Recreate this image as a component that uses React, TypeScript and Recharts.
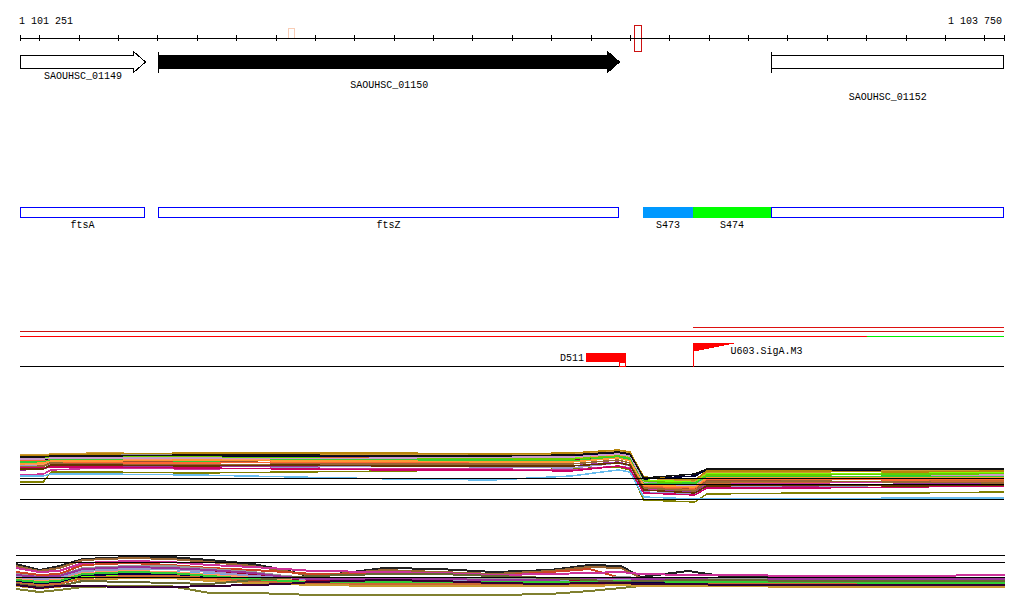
import React from 'react';
import { ComposedChart, XAxis, YAxis, ReferenceArea, ReferenceLine, Line } from 'recharts';

// ---------------- data ----------------
const VIEW_START = 1101251;
const VIEW_END = 1103750;
const RULER_TICKS = [1101251, 1101300, 1101400, 1101500, 1101600, 1101700, 1101800, 1101900, 1102000, 1102100, 1102200, 1102300, 1102400, 1102500, 1102600, 1102700, 1102800, 1102900, 1103000, 1103100, 1103200, 1103300, 1103400, 1103500, 1103600, 1103700, 1103750];
const RULER_LABELS = ['1 101 251', '1 103 750'];

const GENE_NAMES = ['SAOUHSC_01149', 'SAOUHSC_01150', 'SAOUHSC_01152'];
const GENE_STARTS = [1100158, 1101602, 1103159];
const GENE_ENDS = [1101571, 1102775, 1104500];

const FEATURE_NAMES = ['ftsA', 'ftsZ', 'S473', 'S474', ''];
const FEATURE_STARTS = [1100158, 1101602, 1102833, 1102960, 1103159];
const FEATURE_ENDS = [1101568, 1102772, 1102960, 1103159, 1104500];

const MARKER_STARTS = [1101932, 1102811];
const MARKER_ENDS = [1101950, 1102831];

const SIGNAL_STARTS = [1102960, 1101251, 1101251, 1103402];
const SIGNAL_ENDS = [1103750, 1103750, 1103402, 1103750];

const SITE_NAMES = ['D511', 'U603.SigA.M3'];
const SITE_STARTS = [1102689, 1102960];
const SITE_ENDS = [1102790, 1103062];
const D511_TAIL = [1102772, 1102790];

// expression profiles, panel 1
const B1_POS = [1101251, 1101310, 1101330, 1101450, 1101700, 1101950, 1102200, 1102450, 1102650, 1102770, 1102800, 1102835, 1102965, 1102995, 1103250, 1103500, 1103750];
const B1_01 = [6.6, 6.6, 8.6, 8.6, 8.4, 8.6, 8.8, 9, 9.2, 9.6, 9, 3, 2.6, 4.2, 4.4, 4.4, 4.6];
const B1_02 = [9.8, 10, 10.2, 10.6, 10.6, 10.4, 10.6, 10.4, 10.6, 11.4, 11, 6, 5.4, 7.4, 7.2, 7.4, 7.6];
const B1_03 = [11, 11.2, 11.8, 12, 11.8, 11.6, 11.6, 11.4, 11.4, 12, 11.6, 7, 6.6, 8.2, 8.2, 8.4, 8.4];
const B1_04 = [8, 8.2, 9, 9.4, 9.2, 9.4, 9.2, 9.2, 9, 9.8, 9.4, 5.2, 4.8, 6.2, 6.4, 6.6, 6.6];
const B1_05 = [7.8, 7.8, 8.2, 8.2, 8, 7.6, 7.2, 7, 7.8, 9, 8.6, 3.6, 3.2, 3.2, 3.2, 3.4, 3.4];
const B1_06 = [9.4, 9.6, 10.6, 10.8, 10.6, 11, 10.8, 11, 11, 11.8, 11.2, 5.8, 5.2, 7, 7, 7.2, 7];
const B1_07 = [10.2, 10.4, 11, 11.2, 11, 10.8, 11.2, 11.2, 11, 11.8, 11.4, 6.4, 5.8, 7.8, 7.6, 7.8, 7.8];
const B1_08 = [10.6, 10.8, 11.4, 11.6, 11.8, 11.8, 11.8, 11.6, 11.8, 12.4, 12, 7.2, 7.8, 9, 9, 9, 9];
const B1_09 = [10, 10.2, 10.8, 11, 11.2, 11.2, 11, 10.8, 11.2, 12, 11.4, 6.2, 5.6, 7.6, 7.4, 7.6, 7.8];
const B1_10 = [11.4, 11.4, 11.8, 12, 12.2, 12, 12, 11.8, 12, 12.6, 12.2, 6.6, 6, 7.8, 7.8, 7.6, 7.6];
const B1_11 = [9.8, 9.8, 10.2, 10, 9.8, 9.6, 9.8, 9.6, 9.4, 10.4, 9.8, 4.6, 4.2, 5.8, 5.6, 6, 6.4];
const B1_12 = [10.4, 10.6, 11.2, 11.4, 11.2, 11.4, 11.4, 11.4, 11.6, 12.2, 11.8, 5.6, 5, 6.4, 6.6, 6.8, 6.8];
const B1_13 = [11.6, 11.6, 11.6, 11.8, 11.6, 11.4, 11.2, 11.2, 11.2, 11.8, 11.4, 6.8, 6.2, 8, 8, 8.2, 8.2];
const B1_14 = [12, 12, 12.2, 12.4, 12.2, 12.2, 12.2, 12, 12.2, 12.8, 12.4, 7.4, 6.8, 8.6, 8.6, 8.8, 8.8];
const B1_15 = [9, 9.2, 9.8, 9.8, 9.6, 9.8, 10, 9.8, 9.8, 10.6, 10, 5, 4.6, 6, 5.8, 6.2, 6.2];
const B1_16 = [10.8, 11, 10.6, 10.4, 10.4, 10.6, 10.4, 10.6, 10.8, 11.6, 11, 5.8, 5.4, 7.2, 7.2, 7, 7.2];
const B1_17 = [9.6, 9.8, 10.4, 10.2, 10, 10.2, 10.2, 10.2, 10.2, 11, 10.4, 5.4, 4.8, 6.6, 6.8, 6.6, 6.4];
const B1_18 = [11.2, 11.2, 11.4, 11.4, 11.4, 11.2, 11.4, 11.6, 11.6, 12.2, 11.8, 6.4, 5.8, 7.4, 7.6, 7.8, 8];
const B1_19 = [10.6, 10.6, 11, 11, 10.8, 11, 11, 11, 10.8, 11.6, 11.2, 6.2, 6.4, 7.6, 7.6, 7.8, 7.6];
const B1_20 = [9.4, 9.4, 9.6, 9.6, 9.4, 9.2, 9, 9, 8.8, 9.8, 9.2, 4.4, 4, 5.4, 5.4, 5.6, 5.8];
const B1_21 = [11.8, 11.8, 12, 12.2, 12.4, 12.4, 12.4, 12.2, 12.4, 13, 12.6, 7.6, 7, 8.8, 8.8, 8.6, 8.8];
const B1_22 = [10.2, 10.4, 10.8, 10.8, 11, 10.8, 10.8, 10.6, 10.6, 11.4, 10.8, 6, 5.6, 7.4, 7.4, 7.4, 7.4];
const B1_23 = [9.2, 9.2, 10, 10, 9.8, 10, 9.8, 9.8, 9.8, 10.4, 10, 5, 4.4, 5.8, 6, 5.8, 6];
const B1_24 = [11.6, 11.6, 11.8, 11.8, 12, 12, 11.8, 11.8, 12, 12.6, 12.2, 7.4, 8.2, 9.2, 9.2, 9.2, 9.2];
const B1_THRESHOLDS = [7.4, 6.2, 3.2];

// expression profiles, panel 2
const B2_POS = [1101251, 1101310, 1101360, 1101420, 1101540, 1101640, 1101740, 1101850, 1101930, 1102000, 1102180, 1102320, 1102460, 1102600, 1102700, 1102780, 1102830, 1102950, 1103050, 1103250, 1103500, 1103750];
const B2_01 = [7.2, 6, 6.8, 8.2, 8.6, 8.6, 8, 7.2, 6, 4.6, 6.4, 6.2, 5.6, 6, 7, 6.8, 4.6, 5.8, 4.6, 4.6, 4.4, 4.4];
const B2_02 = [6.8, 5.8, 6.4, 8, 8.4, 8.2, 7.6, 6.8, 5.8, 4.8, 6, 5.6, 5.2, 5.8, 6.6, 6.4, 4.4, 4.4, 4.2, 4, 4, 4];
const B2_03 = [5.6, 5, 5.2, 7, 7.4, 7, 6.4, 6, 5.6, 5.2, 5.4, 5.2, 4.8, 5.6, 6.2, 4.4, 4.2, 4, 3.8, 4, 3.8, 3.8];
const B2_04 = [2.2, 1.6, 2, 2.6, 2.8, 2.8, 1.4, 1.4, 1.2, 1, 1, 1, 1, 1.2, 1.8, 2.4, 2.8, 3, 3, 3, 2.8, 2.8];
const B2_05 = [4.4, 4, 4.2, 5, 5.4, 5.6, 5.2, 4.8, 4.4, 4.2, 4.2, 4, 4.2, 4.2, 4.4, 4.4, 4.2, 4.2, 4.2, 4.2, 4.2, 4.2];
const B2_06 = [4, 3.8, 4, 4.8, 5.2, 5.2, 4.8, 4.4, 4, 3.8, 3.8, 3.8, 3.6, 3.8, 4, 4, 3.8, 3.8, 3.8, 3.8, 4, 4];
const B2_07 = [6.4, 5.6, 5.8, 7.4, 7.8, 7.6, 7, 6.6, 6.2, 5.8, 5.6, 5.4, 5, 5.2, 5.4, 5.6, 5.2, 5, 5, 4.8, 4.8, 5];
const B2_08 = [3.6, 3.2, 3.4, 4.6, 5, 4.8, 4.4, 4, 3.8, 3.4, 3.4, 3.2, 3.2, 3, 3.2, 3.2, 3.4, 3.2, 3.2, 3.4, 3.2, 3.2];
const B2_09 = [3.2, 3, 3.2, 4.4, 4.8, 4.6, 4.2, 3.6, 3.4, 3.2, 3.2, 3, 3, 3, 3, 3.2, 3, 3, 3, 3, 3, 3];
const B2_10 = [4.8, 4.4, 4.6, 6, 6.4, 6.2, 5.6, 5, 4.4, 4, 3.8, 4, 3.8, 3.8, 4, 4, 4, 4, 4.2, 4.2, 4, 4];
const B2_11 = [4.2, 3.8, 4, 5.4, 5.8, 5.6, 5, 4.6, 4, 3.6, 3.6, 3.6, 3.4, 3.4, 3.6, 3.6, 3.6, 3.6, 3.6, 3.6, 3.6, 3.6];
const B2_12 = [5.2, 4.6, 4.8, 6.4, 6.8, 6.8, 6.2, 5.6, 4.8, 4.4, 4.4, 4.2, 4.4, 4.2, 4.2, 4.6, 4.4, 4.4, 4.4, 4.4, 4.4, 4.4];
const B2_13 = [2.8, 2.4, 2.6, 4, 4.4, 4.4, 3.8, 3.4, 3.2, 3, 2.8, 2.8, 2.8, 2.8, 2.8, 3, 2.8, 2.8, 2.8, 2.6, 2.6, 2.6];
const B2_14 = [4.6, 4.2, 4.4, 5.8, 6.2, 6.2, 5.6, 4.8, 4.4, 4.2, 4, 4, 4, 4, 4.2, 4.2, 4.2, 4, 4, 4, 4, 4];
const B2_15 = [3.8, 3.4, 3.6, 5, 5.2, 5.2, 4.6, 4, 3.6, 3.4, 3.4, 3.4, 3.4, 3.2, 3.4, 3.4, 3.4, 3.4, 3.2, 3.4, 3.4, 3.4];
const B2_16 = [5, 4.6, 4.8, 6.2, 6.6, 6.4, 6, 5.4, 4.6, 4.2, 4.2, 4.2, 4, 4, 4.4, 4.4, 4.2, 4.2, 4, 4.2, 4.2, 4.2];
const B2_17 = [3.4, 3, 3.2, 4.4, 4.8, 4.8, 4.4, 3.8, 3.6, 3.4, 3.2, 3.2, 3.2, 3.2, 3.2, 3.4, 3.2, 3.2, 3.2, 3.2, 3.2, 3.2];
const B2_18 = [4, 3.6, 3.8, 5.2, 5.6, 5.4, 4.8, 4.2, 3.8, 3.6, 3.6, 3.6, 3.6, 3.6, 3.6, 3.8, 3.8, 3.6, 3.6, 3.6, 3.4, 3.4];
const B2_19 = [3.2, 2.6, 2.8, 3.8, 3.6, 3.4, 3.2, 4, 4.4, 4.8, 5.2, 5.2, 4.8, 4.4, 4, 3.6, 3.8, 4, 4, 3.8, 3.8, 3.8];
const B2_20 = [3, 2.4, 2.8, 2.8, 2.6, 2.6, 2.8, 3, 3.2, 3.6, 4, 3.8, 3.4, 3.2, 3.4, 3.4, 3.2, 3.2, 3, 3, 3, 3];
const B2_THRESHOLDS = [9, 7.6, 4.6];

const B1_SERIES = [B1_01, B1_02, B1_03, B1_04, B1_05, B1_06, B1_07, B1_08, B1_09, B1_10, B1_11, B1_12, B1_13, B1_14, B1_15, B1_16, B1_17, B1_18, B1_19, B1_20, B1_21, B1_22, B1_23, B1_24];
const B2_SERIES = [B2_01, B2_02, B2_03, B2_04, B2_05, B2_06, B2_07, B2_08, B2_09, B2_10, B2_11, B2_12, B2_13, B2_14, B2_15, B2_16, B2_17, B2_18, B2_19, B2_20];

// ---------------- layout & style ----------------
const W = 1024;
const FONT = '"Liberation Mono", "DejaVu Sans Mono", monospace';
const AXIS_Y = 38;
const GENE_BODY = [55.5, 68.5];
const GENE_HEAD = [51.5, 72.5];
const HEAD_LEN = 12;
const GENE_LABEL_Y = [79, 88, 100];
const GENE_FILLS = ['#ffffff', '#000000', '#ffffff'];
const FEAT_Y = [207.5, 217.5];
const FEAT_LABEL_Y = 228;
const FEAT_FILLS = ['none', 'none', '#0099ff', '#00ff00', 'none'];
const MARKER_Y = [[28.5, 38.5], [25.5, 51.5]];
const MARKER_COLORS = ['#f8cdb6', '#cc1111'];
const SIGNAL_Y = [327.5, 331.5, 336.5, 336.5];
const SIGNAL_COLORS = ['#dd1111', '#cc1111', '#ff0000', '#00ee00'];
const BASELINE_Y = 366.5;
const SITE_Y = [352.5, 361.5];
const TAIL_Y = [362.5, 366.5];
const FLAG_Y = [343, 351];
const SITE_LABEL_Y = [361, 354];

const B1_COLORS = ['#808000', '#e8703a', '#7fff00', '#cc3399', '#66bbee', '#a0522d', '#990033', '#000033', '#ff9966', '#999999', '#9999cc', '#cc6633', '#66cc00', '#cc9933', '#993399', '#ff6633', '#996633', '#cc99cc', '#33cc33', '#cc0066', '#b8860b', '#ff9933', '#663300', '#111111'];
const B2_COLORS = ['#222222', '#996633', '#cc4422', '#808030', '#66aaee', '#77bbff', '#cc3399', '#7fff00', '#ff8833', '#990033', '#ff9966', '#999999', '#cc9933', '#9999cc', '#000044', '#993399', '#cc6633', '#33cc33', '#666633', '#330033'];

const clampS = (v: number) => Math.max(v, VIEW_START);
const clampE = (v: number) => Math.min(v, VIEW_END);

const txt = { fontFamily: FONT, fontSize: 10, fill: '#000' } as const;

const RulerTick = (props: any) => {
  const { x, payload } = props;
  const v = payload && payload.value;
  const xx = Math.round(x) + 0.5;
  let label: any = null;
  if (v === VIEW_START) label = <text x={x - 1} y={24} textAnchor="start" {...txt}>{RULER_LABELS[0]}</text>;
  if (v === VIEW_END) label = <text x={x - 2} y={24} textAnchor="end" {...txt}>{RULER_LABELS[1]}</text>;
  return (
    <g>
      <line x1={xx} x2={xx} y1={AXIS_Y - 3} y2={AXIS_Y + 3} stroke="#000" />
      {label}
    </g>
  );
};

const geneShape = (i: number) => (p: any) => {
  const x0 = p.x;
  const x1 = p.x + p.width;
  const startIn = GENE_STARTS[i] >= VIEW_START;
  const endIn = GENE_ENDS[i] <= VIEW_END;
  const fill = GENE_FILLS[i];
  let d: string;
  const sx = Math.round(x0) + 0.5;
  const ex = Math.round(x1) - 0.5;
  if (endIn) {
    const hx = ex - HEAD_LEN;
    const mid = (GENE_HEAD[0] + GENE_HEAD[1]) / 2;
    d = `M${sx},${GENE_BODY[0]} L${hx},${GENE_BODY[0]} L${hx},${GENE_HEAD[0]} L${ex},${mid} L${hx},${GENE_HEAD[1]} L${hx},${GENE_BODY[1]} L${sx},${GENE_BODY[1]} Z`;
  } else {
    d = `M${sx},${GENE_BODY[0]} L${ex},${GENE_BODY[0]} L${ex},${GENE_BODY[1]} L${sx},${GENE_BODY[1]} Z`;
  }
  return (
    <g>
      <path d={d} fill={fill} stroke="#000" strokeWidth={1} />
      {startIn && <line x1={sx} x2={sx} y1={GENE_HEAD[0]} y2={GENE_HEAD[1]} stroke="#000" />}
      <text x={(x0 + x1) / 2} y={GENE_LABEL_Y[i]} textAnchor="middle" {...txt}>{GENE_NAMES[i]}</text>
    </g>
  );
};

const featureShape = (i: number) => (p: any) => {
  const x0 = Math.round(p.x);
  const x1 = Math.round(p.x + p.width);
  const fill = FEAT_FILLS[i];
  return (
    <g>
      {fill === 'none' ? (
        <rect x={x0 + 0.5} y={FEAT_Y[0]} width={x1 - x0 - 1} height={FEAT_Y[1] - FEAT_Y[0]} fill="none" stroke="#0000ff" />
      ) : (
        <rect x={x0} y={FEAT_Y[0] - 0.5} width={x1 - x0} height={FEAT_Y[1] - FEAT_Y[0] + 1} fill={fill} />
      )}
      {FEATURE_NAMES[i] && (
        <text x={(x0 + x1) / 2} y={FEAT_LABEL_Y} textAnchor="middle" {...txt}>{FEATURE_NAMES[i]}</text>
      )}
    </g>
  );
};

const markerShape = (i: number) => (p: any) => (
  <rect x={Math.round(p.x) + 0.5} y={MARKER_Y[i][0]} width={Math.max(1, Math.round(p.width) - 1)} height={MARKER_Y[i][1] - MARKER_Y[i][0]} fill="none" stroke={MARKER_COLORS[i]} />
);

const signalShape = (i: number) => (p: any) => (
  <line x1={p.x} x2={p.x + p.width} y1={SIGNAL_Y[i]} y2={SIGNAL_Y[i]} stroke={SIGNAL_COLORS[i]} strokeWidth={1} />
);

const baselineShape = (p: any) => (
  <line x1={p.x} x2={p.x + p.width} y1={BASELINE_Y} y2={BASELINE_Y} stroke="#000" strokeWidth={1} />
);

const d511Shape = (p: any) => (
  <g>
    <rect x={Math.round(p.x)} y={SITE_Y[0]} width={Math.round(p.width)} height={SITE_Y[1] - SITE_Y[0]} fill="#ff0000" />
    <text x={Math.round(p.x) - 2} y={SITE_LABEL_Y[0]} textAnchor="end" {...txt}>{SITE_NAMES[0]}</text>
  </g>
);

const tailShape = (p: any) => (
  <rect x={Math.round(p.x) + 0.5} y={TAIL_Y[0]} width={Math.round(p.width) - 1} height={TAIL_Y[1] - TAIL_Y[0]} fill="#fff" stroke="#ff0000" />
);

const flagShape = (p: any) => {
  const x0 = Math.round(p.x) + 0.5;
  const w = Math.round(p.width);
  const steps = 8;
  const h = FLAG_Y[1] - FLAG_Y[0];
  let d = `M${x0},${FLAG_Y[0]} L${x0 + w},${FLAG_Y[0]}`;
  for (let k = steps - 1; k >= 0; k--) {
    const yk = FLAG_Y[0] + (h * (steps - k)) / steps;
    d += ` L${x0 + (w * (k + 1)) / steps},${yk} L${x0 + (w * k) / steps},${yk}`;
  }
  d += ' Z';
  return (
    <g>
      <path d={d} fill="#ff0000" />
      <line x1={x0} x2={x0} y1={FLAG_Y[0]} y2={BASELINE_Y} stroke="#ff0000" />
      <text x={x0 + w - 3} y={SITE_LABEL_Y[1]} textAnchor="start" {...txt}>{SITE_NAMES[1]}</text>
    </g>
  );
};

const buildRows = (pos: number[], series: number[][]) =>
  pos.map((g, i) => {
    const row: any = { g };
    series.forEach((s, k) => { row['s' + k] = s[i]; });
    return row;
  });

const b1Data = buildRows(B1_POS, B1_SERIES);
const b2Data = buildRows(B2_POS, B2_SERIES);
// ruler positions as the (invisible) data frame of the annotation panel
const rulerData = RULER_TICKS.map((g) => ({ g, v: 0 }));

export default function App() {
  return (
    <div style={{ position: 'absolute', left: 0, top: 0, width: W, height: 611, background: '#fff', overflow: 'hidden' }}>
      <div style={{ position: 'absolute', left: 0, top: 0 }}>
        <ComposedChart width={W} height={380} data={rulerData} margin={{ top: 26, right: 20, bottom: 0, left: 20 }} style={{ shapeRendering: 'crispEdges' }}>
          <XAxis
            dataKey="g"
            type="number"
            domain={[VIEW_START, VIEW_END]}
            allowDataOverflow
            orientation="top"
            height={12}
            ticks={RULER_TICKS}
            interval={0}
            tickLine={false}
            tickSize={0}
            tickMargin={0}
            axisLine={{ stroke: '#000' }}
            tick={(p: any) => <RulerTick {...p} />}
          />
          <YAxis type="number" domain={[0, 1]} allowDataOverflow hide />
          <Line dataKey="v" stroke="none" strokeWidth={0} dot={false} activeDot={false} isAnimationActive={false} />
          {MARKER_STARTS.map((s, i) => (
            <ReferenceArea key={'m' + i} x1={s} x2={MARKER_ENDS[i]} ifOverflow="visible" shape={markerShape(i)} />
          ))}
          {GENE_NAMES.map((n, i) => (
            <ReferenceArea key={'g' + i} x1={clampS(GENE_STARTS[i])} x2={clampE(GENE_ENDS[i])} ifOverflow="visible" shape={geneShape(i)} />
          ))}
          {FEATURE_NAMES.map((n, i) => (
            <ReferenceArea key={'f' + i} x1={clampS(FEATURE_STARTS[i])} x2={clampE(FEATURE_ENDS[i])} ifOverflow="visible" shape={featureShape(i)} />
          ))}
          {SIGNAL_STARTS.map((s, i) => (
            <ReferenceArea key={'s' + i} x1={s} x2={SIGNAL_ENDS[i]} ifOverflow="visible" shape={signalShape(i)} />
          ))}
          <ReferenceArea x1={VIEW_START} x2={VIEW_END} ifOverflow="visible" shape={baselineShape} />
          <ReferenceArea x1={SITE_STARTS[0]} x2={SITE_ENDS[0]} ifOverflow="visible" shape={d511Shape} />
          <ReferenceArea x1={D511_TAIL[0]} x2={D511_TAIL[1]} ifOverflow="visible" shape={tailShape} />
          <ReferenceArea x1={SITE_STARTS[1]} x2={SITE_ENDS[1]} ifOverflow="visible" shape={flagShape} />
        </ComposedChart>
      </div>

      <div style={{ position: 'absolute', left: 0, top: 440 }}>
        <ComposedChart width={W} height={70} data={b1Data} margin={{ top: 5, right: 20, bottom: 5, left: 20 }} style={{ shapeRendering: 'crispEdges' }}>
          <XAxis dataKey="g" type="number" domain={[VIEW_START, VIEW_END]} allowDataOverflow hide />
          <YAxis type="number" domain={[2, 14]} allowDataOverflow hide />
          {B1_SERIES.map((s, k) => (
            <Line key={k} dataKey={'s' + k} type="linear" stroke={B1_COLORS[k]} strokeWidth={1.5} dot={false} isAnimationActive={false} />
          ))}
          {B1_THRESHOLDS.map((t, i) => (
            <ReferenceLine key={'t' + i} y={t} stroke="#000" strokeWidth={1} ifOverflow="visible" />
          ))}
        </ComposedChart>
      </div>

      <div style={{ position: 'absolute', left: 0, top: 545 }}>
        <ComposedChart width={W} height={60} data={b2Data} margin={{ top: 5, right: 19, bottom: 5, left: 16 }} style={{ shapeRendering: 'crispEdges' }}>
          <XAxis dataKey="g" type="number" domain={[VIEW_START, VIEW_END]} allowDataOverflow hide />
          <YAxis type="number" domain={[0, 10]} allowDataOverflow hide />
          {B2_SERIES.map((s, k) => (
            <Line key={k} dataKey={'s' + k} type="linear" stroke={B2_COLORS[k]} strokeWidth={2} dot={false} isAnimationActive={false} />
          ))}
          {B2_THRESHOLDS.map((t, i) => (
            <ReferenceLine key={'t' + i} y={t} stroke="#000" strokeWidth={1} ifOverflow="visible" />
          ))}
        </ComposedChart>
      </div>
    </div>
  );
}
